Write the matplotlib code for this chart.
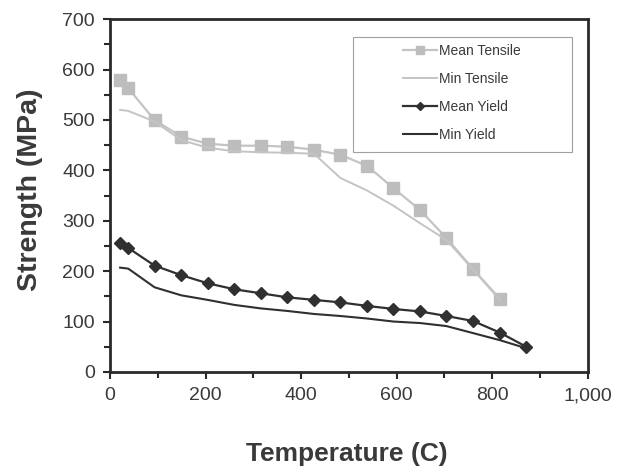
import matplotlib

matplotlib.use("Agg")
import matplotlib.pyplot as plt  # noqa: E402
from matplotlib.patches import Rectangle  # noqa: E402
from matplotlib.ticker import FuncFormatter, MultipleLocator  # noqa: E402

plt.rcParams["font.family"] = ["Liberation Sans", "DejaVu Sans"]

# temperatures (C) for each series
temp_tensile = [21, 38, 93, 149, 204, 260, 316, 371, 427, 482, 538, 593, 649, 704, 760, 816]
temp_yield = [21, 38, 93, 149, 204, 260, 316, 371, 427, 482, 538, 593, 649, 704, 760, 816, 871]

mean_tensile = [580, 563, 500, 467, 453, 449, 449, 447, 441, 431, 409, 365, 321, 266, 204, 145]
min_tensile = [520, 518, 497, 460, 445, 438, 436, 435, 433, 385, 360, 330, 295, 262, 203, 143]
mean_yield = [255, 246, 211, 192, 176, 164, 156, 148, 143, 138, 131, 125, 120, 111, 101, 78, 50]
min_yield = [207, 205, 168, 152, 143, 133, 126, 121, 115, 111, 106, 100, 97, 91, 77, 63, 47]

LIGHT = "#c4c4c4"
DARK = "#303030"
TXT = "#3a3a3a"

fig = plt.figure(figsize=(6.22, 4.69), dpi=100)
ax = fig.add_axes([0.177, 0.207, 0.768, 0.752])

ax.plot(temp_tensile, mean_tensile, color=LIGHT, lw=1.6, marker="s", ms=8,
        mfc="#bdbdbd", mec="#bdbdbd", label="Mean Tensile")
ax.plot(temp_tensile, min_tensile, color=LIGHT, lw=1.4, label="Min Tensile")
ax.plot(temp_yield, mean_yield, color=DARK, lw=1.6, marker="D", ms=6,
        mfc=DARK, mec=DARK, label="Mean Yield")
ax.plot(temp_yield, min_yield, color=DARK, lw=1.5, label="Min Yield")

ax.set_xlim(0, 1000)
ax.set_ylim(0, 700)
ax.xaxis.set_major_locator(MultipleLocator(200))
ax.xaxis.set_minor_locator(MultipleLocator(100))
ax.yaxis.set_major_locator(MultipleLocator(100))
ax.yaxis.set_minor_locator(MultipleLocator(50))
ax.xaxis.set_major_formatter(FuncFormatter(lambda v, p: f"{int(v):,}"))

for s in ax.spines.values():
    s.set_linewidth(2)
    s.set_color("#2a2a2a")
ax.tick_params(which="both", direction="out", color="#2a2a2a", width=1.5,
               labelsize=14, labelcolor=TXT)
ax.tick_params(which="major", length=5, pad=6)
ax.tick_params(which="minor", length=4)

ax.set_xlabel("Temperature (C)", fontsize=19, fontweight="bold", color=TXT)
ax.set_ylabel("Strength (MPa)", fontsize=20.5, fontweight="bold", color=TXT)
ax.xaxis.set_label_coords(0.496, -0.200)
ax.yaxis.set_label_coords(-0.141, 0.516)

# legend frame is wider than its contents in the original
ax.add_patch(Rectangle((0.508, 0.624), 0.458, 0.327, transform=ax.transAxes,
                       facecolor="white", edgecolor="#a0a0a0", lw=0.8, zorder=2.5))
leg = ax.legend(loc="upper left", bbox_to_anchor=(0.613, 0.929), fontsize=10,
                frameon=False, handlelength=2.45, labelspacing=1.0, markerscale=0.75,
                borderpad=0, handletextpad=0.15, borderaxespad=0)
leg.set_zorder(3)
for t in leg.get_texts():
    t.set_color(TXT)

fig.savefig("out.png", dpi=100)
plt.close(fig)
